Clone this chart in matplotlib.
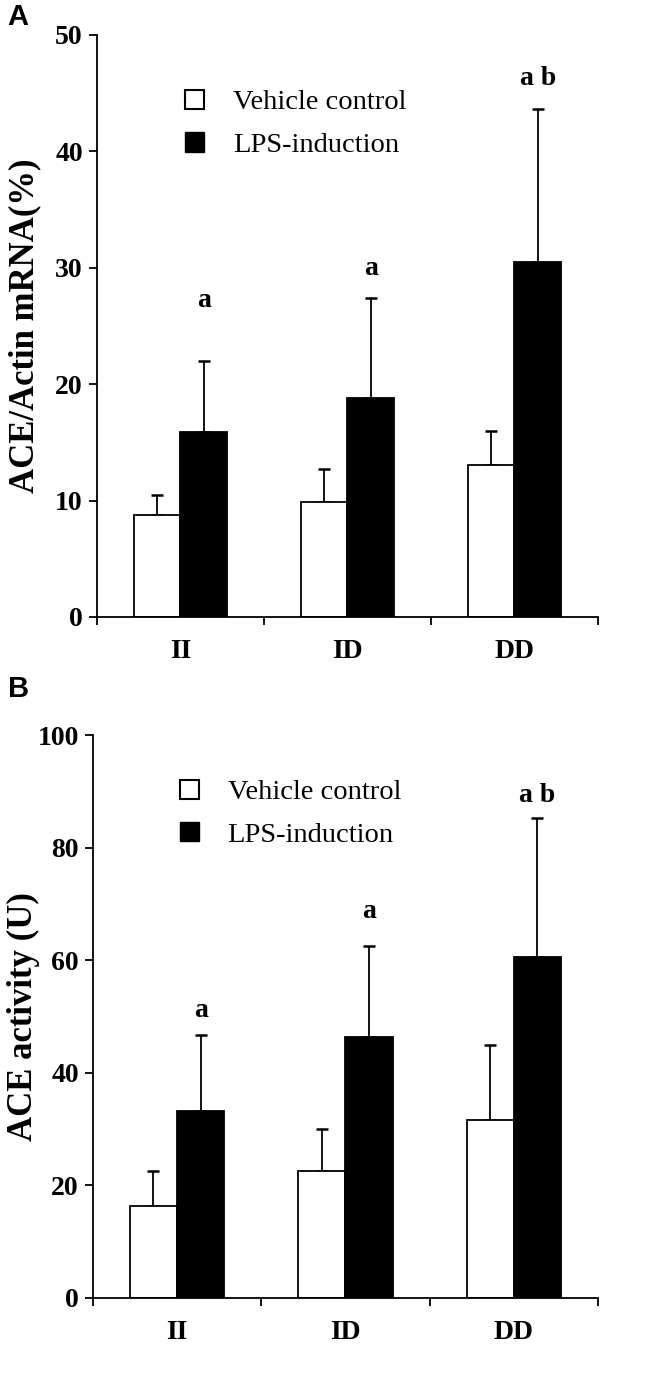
import numpy as np
import matplotlib.pyplot as plt
from matplotlib.patches import Patch

# datos
genotipos = ["II", "ID", "DD"]

arn_control = [8.8, 9.9, 13.1]
arn_control_err = [1.7, 2.8, 2.9]
arn_lps = [15.9, 18.8, 30.5]
arn_lps_err = [6.1, 8.6, 13.1]
arn_letras = ["a", "a", "a b"]
arn_letras_y = [27.2, 29.9, 46.3]

act_control = [16.4, 22.6, 31.6]
act_control_err = [6.1, 7.5, 13.4]
act_lps = [33.2, 46.4, 60.6]
act_lps_err = [13.5, 16.1, 24.7]
act_letras = ["a", "a", "a b"]
act_letras_y = [51.0, 68.6, 89.3]

serif = "Liberation Serif"


def panel(ax, control, control_err, lps, lps_err, letras, letras_y, ymax, paso, ylabel, label_x, leg_pos):
    x = np.arange(len(genotipos))
    w = 0.28
    ax.bar(x - w / 2, control, w, color="white", edgecolor="black", linewidth=1.3, zorder=2)
    ax.bar(x + w / 2, lps, w, color="black", edgecolor="black", linewidth=1.3, zorder=2)
    # solo la mitad superior de la barra de error
    ax.errorbar(x - w / 2, control, yerr=[np.zeros(3), control_err], fmt="none",
                ecolor="black", elinewidth=1.3, capsize=4.5, capthick=1.8, zorder=1)
    ax.errorbar(x + w / 2, lps, yerr=[np.zeros(3), lps_err], fmt="none",
                ecolor="black", elinewidth=1.3, capsize=4.5, capthick=1.8, zorder=1)
    for i, t in enumerate(letras):
        ax.text(x[i] + w / 2, letras_y[i], t, ha="center", va="center",
                fontsize=20, fontweight="bold", family=serif)

    ax.set_xlim(-0.5, 2.5)
    ax.set_ylim(0, ymax)
    ax.set_yticks(np.arange(0, ymax + 1, paso))
    ax.set_xticks([-0.5, 0.5, 1.5, 2.5])
    ax.set_xticklabels([])
    ax.set_xticks(x, minor=True)
    ax.set_xticklabels(genotipos, minor=True, fontsize=20, fontweight="bold", family=serif)
    ax.tick_params(axis="x", which="minor", length=0, pad=16)
    ax.tick_params(axis="x", which="major", length=6, width=1.3)
    ax.tick_params(axis="y", length=6, width=1.3, pad=4)
    for lab in ax.get_yticklabels():
        lab.set_fontsize(20)
        lab.set_fontweight("bold")
        lab.set_family(serif)
    ax.spines["top"].set_visible(False)
    ax.spines["right"].set_visible(False)
    ax.spines["left"].set_linewidth(1.3)
    ax.spines["bottom"].set_linewidth(1.3)
    ax.set_ylabel(ylabel, fontsize=25, fontweight="bold", family=serif)
    ax.yaxis.set_label_coords(label_x, 0.5)

    handles = [Patch(facecolor="white", edgecolor="black", linewidth=1.5, label="Vehicle control"),
               Patch(facecolor="black", edgecolor="black", label="LPS-induction")]
    ax.legend(handles=handles, loc="upper left", bbox_to_anchor=leg_pos, frameon=False,
              prop={"family": serif, "size": 20.5}, handlelength=0.68, handleheight=0.68,
              handletextpad=1.0, labelspacing=0.58, borderpad=0, borderaxespad=0)


fig = plt.figure(figsize=(6.45, 13.94), dpi=100)
ax1 = fig.add_axes([0.150, 0.5574, 0.777, 0.4175])
ax2 = fig.add_axes([0.144, 0.0689, 0.783, 0.4038])

panel(ax1, arn_control, arn_control_err, arn_lps, arn_lps_err, arn_letras, arn_letras_y,
      50, 10, "ACE/Actin mRNA(%)", -0.11, (0.176, 0.906))
panel(ax2, act_control, act_control_err, act_lps, act_lps_err, act_letras, act_letras_y,
      100, 20, "ACE activity (U)", -0.105, (0.172, 0.921))

fig.text(0.012, 0.998, "A", fontsize=21, fontweight="bold", family="Liberation Sans", va="top")
fig.text(0.012, 0.516, "B", fontsize=21, fontweight="bold", family="Liberation Sans", va="top")

fig.savefig("out.png", dpi=100)
